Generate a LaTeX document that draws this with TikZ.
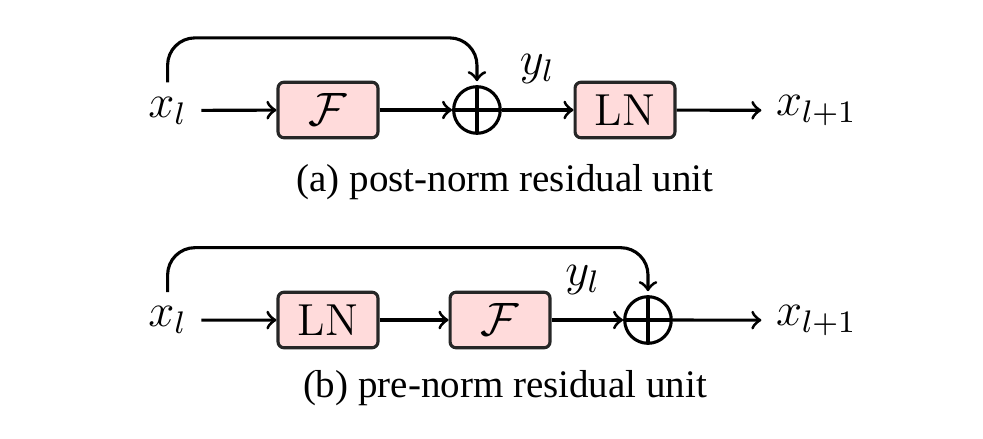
\documentclass[tikz,border=0pt]{standalone}
\usepackage{fontspec}
\newfontfamily\capfont{Liberation Serif}
\definecolor{boxpink}{RGB}{255,219,219}
\begin{document}
\begin{tikzpicture}[thick, >=to,
    every node/.style={font=\fontsize{11.5}{14}\selectfont},
    blockbox/.style={draw=black!85, fill=boxpink, rounded corners=1.5pt, minimum width=0.9cm, minimum height=0.5cm, inner sep=0pt},
    addnode/.style={circle, draw, minimum size=0.42cm, inner sep=0pt,
        path picture={\draw (path picture bounding box.north) -- (path picture bounding box.south)
                             (path picture bounding box.west) -- (path picture bounding box.east);}},
    caption/.style={font=\capfont}]

            \useasboundingbox (0,0) rectangle (8.856,3.955);

            % (a) post-norm
            \node (xa) at (1.51,2.96) {$x_l$};
            \node[blockbox] (fa) at (2.955,2.964) {$\mathcal{F}$};
            \node[addnode] (adda) at (4.297,2.964) {};
            \node[blockbox] (lna) at (5.631,2.964) {LN};
            \node[anchor=west] (outa) at (6.86,2.96) {$x_{l+1}$};
            \node (ya) at (4.84,3.33) {$y_l$};

            \draw[->] (xa) -- (fa);
            \draw[->] (fa) -- (adda);
            \draw[->] (adda) -- (lna);
            \draw[->] (lna) -- (outa);

            % skip connection
            \draw[->, rounded corners=7pt, shorten >=1pt] (xa.north) -- ++(0,0.4) -| (adda.north);

            \node[caption] (capa) at (4.55,2.31) {(a) post-norm residual unit};

            % (b) pre-norm
            \node (xb) at (1.51,1.07) {$x_l$};
            \node[blockbox] (lnb) at (2.955,1.072) {LN};
            \node[blockbox] (fb) at (4.505,1.072) {$\mathcal{F}$};
            \node[addnode] (addb) at (5.838,1.072) {};
            \node[anchor=west] (outb) at (6.86,1.07) {$x_{l+1}$};
            \node (yb) at (5.25,1.43) {$y_l$};

            \draw[->] (xb) -- (lnb);
            \draw[->] (lnb) -- (fb);
            \draw[->] (fb) -- (addb);
            \draw[->] (addb) -- (outb);

            % skip connection
            \draw[->, rounded corners=7pt, shorten >=1pt] (xb.north) -- ++(0,0.4) -| (addb.north);

            \node[caption] (capb) at (4.55,0.46) {(b) pre-norm residual unit};

            \end{tikzpicture}
\end{document}
